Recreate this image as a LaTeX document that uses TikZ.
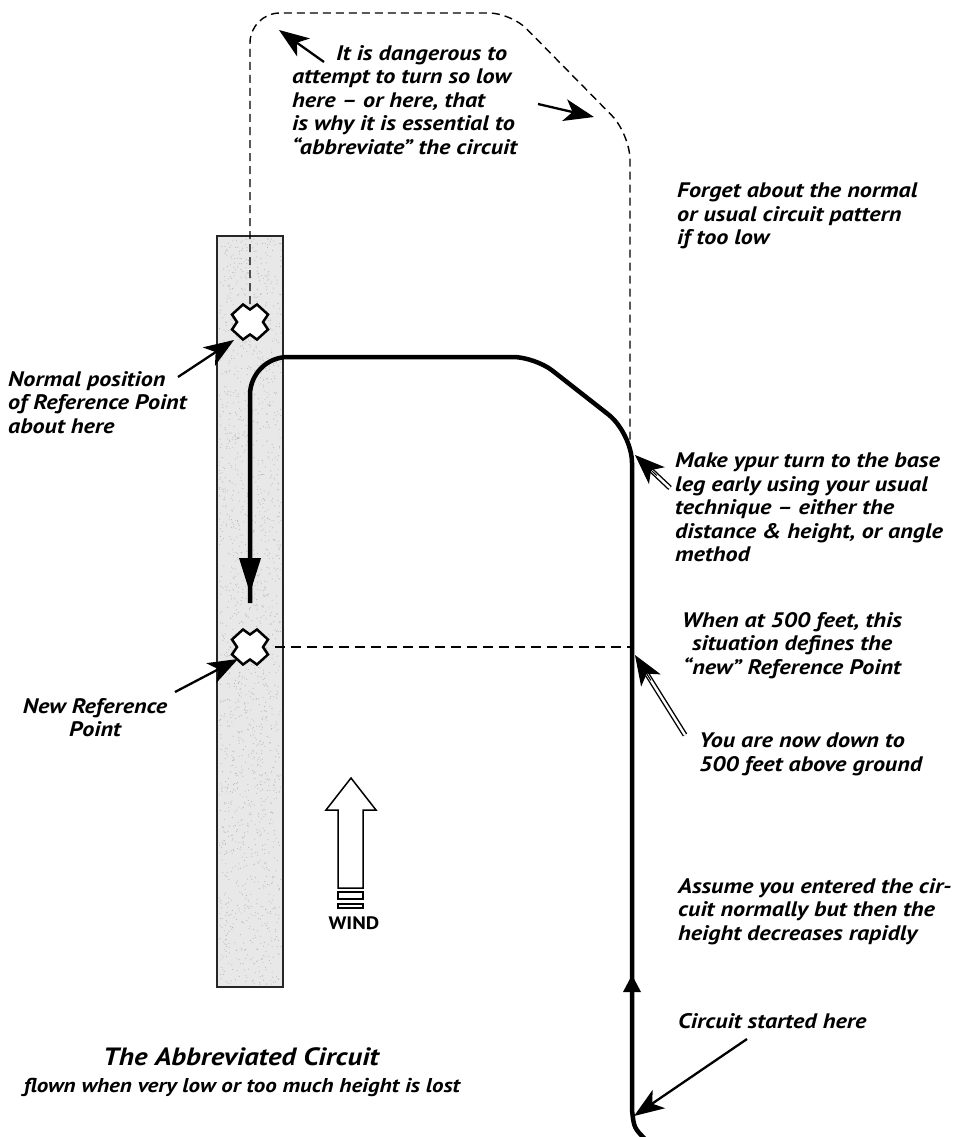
\documentclass[tikz,border=0pt]{standalone}
\usepackage{fontspec}
\setmainfont{PT Sans}[FakeStretch=1.15]
\usetikzlibrary{arrows.meta,calc}
\begin{document}
\begin{tikzpicture}[x=1pt,y=-1pt,
  lbl/.style={font=\bfseries\itshape\fontsize{21}{23.5}\selectfont, inner sep=0pt, align=left, anchor=north west},
  lblc/.style={lbl, align=center, anchor=north},
  ptr/.style={line width=2.3pt, -{Stealth[length=30pt,width=22pt,inset=8pt]}},
  dshaft/.style={double, double distance=2.4pt, line width=1.4pt},
  dhead/.style={line width=1pt, -{Stealth[length=30pt,width=23pt,inset=8pt]}},
  route/.style={line width=4.5pt, line join=round},
  ghost/.style={dash pattern=on 8pt off 5pt, line width=1.4pt},
  refline/.style={dash pattern=on 10pt off 6pt, line width=1.5pt},
  runway/.style={fill=black!9},
  runwayedge/.style={draw=black!85, line width=2.5pt},
  xmark/.style={fill=white, draw=black, line width=2.5pt, line join=miter},
  stipple/.style={fill=black!28},
]
\useasboundingbox (0,0) rectangle (969,1137);

% runway
\fill[runway] (217,236) rectangle (283,987);
\pgfmathsetseed{7}
\foreach \i in {1,...,1800}{
  \pgfmathsetmacro{\px}{250+31*rand}
  \pgfmathsetmacro{\py}{611.5+373*rand}
  \fill[stipple] (\px,\py) circle (0.55pt);
}
\draw[runwayedge] (217,236) rectangle (283,987);

% dashed "normal" circuit
\draw[ghost] (250,304) [rounded corners=30pt] -- (250,13) [rounded corners=22pt] -- (511,13) [rounded corners=26pt] -- (630,134) [sharp corners] -- (630,455);

% reference points (crosses)
\coordinate (nrp) at (250,322);
\coordinate (newrp) at (250,647);
\foreach \c in {nrp,newrp}{
  \draw[xmark, shift={(\c)}] (-7,-17.5) -- (0,-12.5) -- (7,-17.5) -- (18,-7.5) -- (13,0) -- (18,7.5) -- (7,17.5) -- (0,12.5) -- (-7,17.5) -- (-18,7.5) -- (-13,0) -- (-18,-7.5) -- cycle;
}

% new reference line
\coordinate (refL) at (275,647);
\coordinate (refR) at (632,647);
\draw[refline] (refL) -- (refR);

% abbreviated circuit flown
\draw[route] (646,1140) .. controls (634,1128) .. (632,1110) [rounded corners=30pt] -- (632,433) [rounded corners=22pt] -- (535,357) [rounded corners=38pt] -- (250,357) [sharp corners] -- (250,603);
\fill (250,593) -- (239,558) -- (261,558) -- cycle;
\fill (632,975) -- (623,992) -- (641,992) -- cycle;

% wind arrow
\draw[line width=1.5pt, fill=white] (351,778) -- (376,810) -- (363,810) -- (363,888) -- (338,888) -- (338,810) -- (326,810) -- cycle;
\draw[line width=1.5pt, fill=white] (338,892) rectangle (363,899);
\draw[line width=1.5pt, fill=white] (338,904) rectangle (363,908);
\node[font=\bfseries\fontsize{18}{20}\selectfont, inner sep=0pt] (wind) at (354,923) {WIND};

% pointer arrows
\coordinate (a1s) at (324,62);  \coordinate (a1t) at (279,30);
\coordinate (a2s) at (538,104); \coordinate (a2t) at (594,117);
\coordinate (a3s) at (178,377); \coordinate (a3t) at (234,340);
\coordinate (a4s) at (175,692); \coordinate (a4t) at (238,659);
\coordinate (a7s) at (747,1039); \coordinate (a7t) at (634,1116);
\draw[ptr] (a1s) -- (a1t);
\draw[ptr] (a2s) -- (a2t);
\draw[ptr] (a3s) -- (a3t);
\draw[ptr] (a4s) -- (a4t);
\draw[ptr] (a7s) -- (a7t);

% double-shaft arrows
\coordinate (a5s) at (670,488); \coordinate (a5t) at (635,455);
\coordinate (a6s) at (685,735); \coordinate (a6t) at (635,655);
\draw[dshaft] ($(a5t)!22pt!(a5s)$) -- (a5s);
\draw[dhead] ($(a5t)!30pt!(a5s)$) -- (a5t);
\draw[dshaft] ($(a6t)!22pt!(a6s)$) -- (a6s);
\draw[dhead] ($(a6t)!30pt!(a6s)$) -- (a6t);

% texts
\node[lbl] (tdanger) at (292,45) {\hspace*{44pt}It is dangerous to\\attempt to turn so low\\here -- or here, that\\is why it is essential to\\“abbreviate” the circuit};
\node[lbl] (tforget) at (677,183) {Forget about the normal\\or usual circuit pattern\\if too low};
\node[lbl] (tmake) at (675,453) {Make ypur turn to the base\\leg early using your usual\\technique -- either the\\distance \& height, or angle\\method};
\node[lblc] (twhen) at (792,612) {When at 500 feet, this\\situation defines the\\“new” Reference Point};
\node[lbl] (tdown) at (699,733) {You are now down to\\500 feet above ground};
\node[lbl] (tassume) at (678,878) {Assume you entered the cir-\\cuit normally but then the\\height decreases rapidly};
\node[lbl] (tstart) at (678,1013) {Circuit started here};
\node[lbl] (tnormal) at (8,371) {Normal position\\of Reference Point\\about here};
\node[lblc] (tnew) at (95,698) {New Reference\\Point};
\node[font=\bfseries\itshape\fontsize{25}{28}\selectfont, inner sep=0pt] (title) at (241,1057) {The Abbreviated Circuit};
\node[font=\bfseries\itshape\fontsize{20}{23}\selectfont, inner sep=0pt] (subtitle) at (242,1087) {flown when very low or too much height is lost};
\end{tikzpicture}
\end{document}
